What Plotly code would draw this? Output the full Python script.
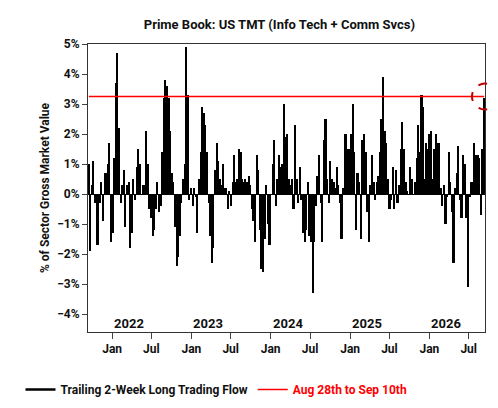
import pandas as pd
import plotly.graph_objects as go

# weekly trailing 2-week long trading flow, % of sector GMV
flow_2021_2023 = [1.0, -1.9, 0.3, 1.1, -0.3, -1.7, -1.7, -0.3, 0.4, -0.9, 0.7, 0.7, 1.0, 1.7, -1.6, -1.3,
                  1.2, 3.7, 4.7, 2.2, -0.3, 0.3, 0.8, -1.1, 0.3, 0.4, -1.8, -1.3, 0.5, -0.2, 0.9, 1.5,
                  1.0, 0.0, 0.3, 0.3, 2.1, 1.0, -0.5, -0.8, -1.4, -1.2, -0.5, 0.4, -0.6, -0.4, 1.4, 3.2,
                  3.8, 3.6, 3.2, 2.1, 0.7, 0.4, -1.1, -2.4, -2.1, -1.4, -0.3, 0.5, 1.0, 4.9, 3.3, -0.2,
                  0.2, -0.4, 0.2, -0.1, -1.3, 0.5, 1.4, 2.9, 2.7, 2.3, 1.4, -0.3, -1.4, -2.3, -1.8, 0.8,
                  1.7, 1.1, 0.5, 0.3, 1.0, 0.2, 0.2, -0.5, 0.1, -0.4, 0.4, 1.3, 0.4, 0.5, 1.5, 1.4,
                  0.5, 0.4, 0.5, 0.4, 0.6, 0.3, -0.5, -0.9, -1.6, 1.3, 0.8, -1.2, -2.5, -2.6, -1.5, 0.3,
                  -1.0, -1.7, 0.0, 1.0, 1.8, -0.4, 0.5, 1.3, 0.9, 1.0, 3.0, 1.9, 2.0, 0.5, 0.3]
flow_2024_2026 = [0.5, -0.5, 2.3, 0.5, -0.3, 0.9, -0.2, -1.3, -1.6, -1.2, 0.4, -1.4, -1.6, -3.3, -1.6, -0.4,
                  0.6, 1.3, -0.3, -1.6, 1.8, 2.5, 0.5, -0.3, 1.1, 0.5, 0.4, 0.2, 0.9, 0.3, -0.3, -1.5,
                  0.2, 2.0, 2.0, 1.5, 1.5, 2.0, 3.0, 1.4, -1.2, 0.7, 0.4, -1.5, 1.8, 2.0, 1.4, -0.6,
                  -1.6, 0.3, 1.3, 0.4, -0.2, 0.4, 0.6, 1.4, 2.5, 3.9, 2.1, 1.7, 0.5, -0.5, -0.2, 0.9,
                  -0.5, 0.8, -0.3, 0.3, 1.5, 2.4, 1.5, 0.4, 0.1, 0.0, 0.9, 0.5, 0.0, 0.4, 1.2, 2.3,
                  1.4, 3.3, 2.9, 0.5, 1.7, 1.5, 2.0, 2.1, 0.5, 1.5, 2.0, 1.7, 1.7, 0.2, -0.4, 0.3,
                  -1.0, -0.1, 1.4, 0.4, -0.6, -2.3, 0.2, 0.7, 1.6, -0.2, -0.8, 1.3, 1.0, -0.8, -3.1, -0.1,
                  0.4, 0.4, 1.7, 1.3, 1.3, 1.2, -0.7, 1.5, 3.2]
flow = flow_2021_2023 + flow_2024_2026
current_level = 3.25
year_labels = ["2022", "2023", "2024", "2025", "2026"]
y_lo, y_hi = -4.6, 5.0

dates = pd.date_range("2021-09-16", "2026-09-10", periods=len(flow))
bold = dict(family="Roboto", weight="bold", size=12, color="#111")

fig = go.Figure()
fig.add_trace(go.Bar(x=dates, y=flow, marker=dict(color="black", line=dict(width=0)),
                     width=7 * 24 * 3600 * 1000 * 1.05, showlegend=False))
# legend entry drawn as a line
fig.add_trace(go.Scatter(x=[None], y=[None], mode="lines", line=dict(color="black", width=2.5),
                         name="Trailing 2-Week Long Trading Flow"))
fig.add_trace(go.Scatter(x=[dates[0], dates[-1]], y=[current_level, current_level], mode="lines",
                         line=dict(color="red", width=1.5),
                         name="<span style='color:red'>Aug 28th to Sep 10th</span>"))

fig.add_shape(type="circle", xref="paper", yref="paper", xsizemode="pixel", ysizemode="pixel",
              xanchor=1.0, yanchor=(current_level - y_lo) / (y_hi - y_lo),
              x0=-13, x1=13, y0=-13, y1=13,
              line=dict(color="#c00000", width=2, dash="dash"))

for yl in year_labels:
    fig.add_annotation(x=f"{yl}-03-20", y=-4.33, text=yl, showarrow=False,
                       font=dict(bold, size=13))

fig.update_layout(
    width=498, height=408, plot_bgcolor="white", paper_bgcolor="white",
    margin=dict(l=62, r=21, t=36, b=72),
    font=bold,
    title=dict(text="Prime Book: US TMT (Info Tech + Comm Svcs)", x=0.545, xanchor="center",
               y=0.96, yanchor="middle", font=dict(bold, size=13)),
    bargap=0, showlegend=True,
    legend=dict(orientation="h", x=-0.17, y=-0.2, xanchor="left", yanchor="middle",
                font=bold, itemwidth=30),
)
fig.update_xaxes(range=[dates[0] - pd.Timedelta(days=4), dates[-1] + pd.Timedelta(days=4)],
                 dtick="M6", tick0="2022-01-01", tickformat="%b", ticks="outside", ticklen=6,
                 showline=True, linecolor="#333", mirror=True, showgrid=False,
                 tickfont=bold, ticklabelmode="instant")
fig.update_yaxes(range=[y_lo, y_hi], dtick=1, ticksuffix="%", ticks="outside", ticklen=5,
                 showline=True, linecolor="#333", mirror=True, showgrid=False, zeroline=True,
                 zerolinecolor="black", zerolinewidth=1,
                 title=dict(text="% of Sector Gross Market Value", font=bold, standoff=4),
                 tickfont=bold)

fig.write_html("out.html")
